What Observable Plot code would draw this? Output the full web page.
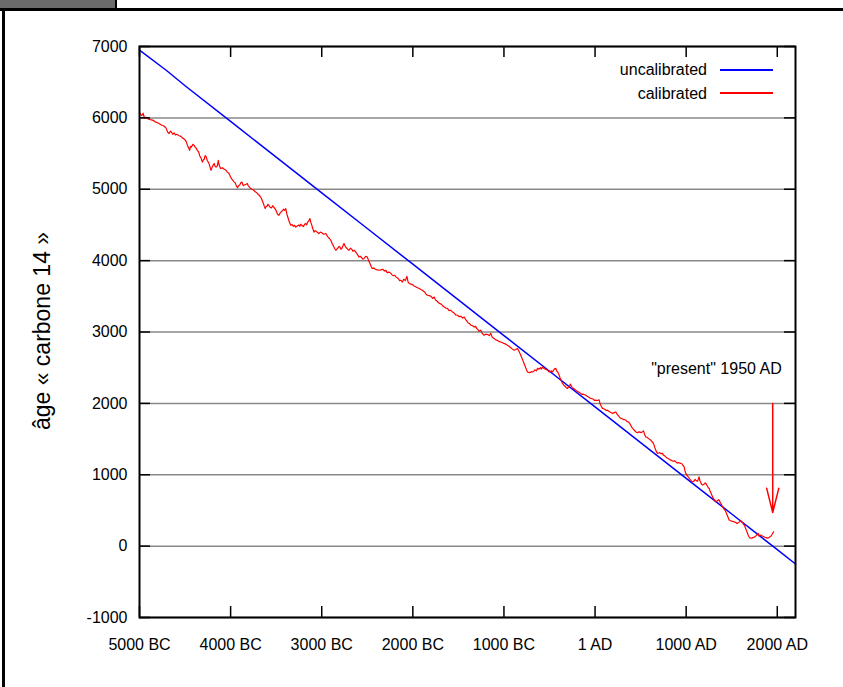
<!DOCTYPE html>
<html>
<head>
<meta charset="utf-8">
<script src="https://cdn.jsdelivr.net/npm/d3@7"></script>
<script src="https://cdn.jsdelivr.net/npm/@observablehq/plot@0.6"></script>
<style>
  html, body { margin: 0; padding: 0; background: #fff; }
  #wrap { position: relative; width: 843px; height: 687px; overflow: hidden; font-family: "Liberation Sans", Arial, sans-serif; }
  #wrap svg { position: absolute; left: 0; top: 0; }
  .deco { position: absolute; }
  .leg { position: absolute; font-size: 16px; line-height: 20px; text-align: right; width: 200px; color: #000; }
  .sample { position: absolute; height: 2px; }
  #ylabel { position: absolute; left: 42px; top: 331px; font-size: 23px; line-height: 26px; white-space: nowrap; color: #000;
            transform: translate(-50%, -50%) rotate(-90deg); }
</style>
</head>
<body>
<div id="wrap"></div>
<script>
// ---- data ----
const xTickValues = [-5000, -4000, -3000, -2000, -1000, 0, 1000, 2000];
const xTickLabels = ["5000 BC", "4000 BC", "3000 BC", "2000 BC", "1000 BC", "1 AD", "1000 AD", "2000 AD"];
const yTickValues = [-1000, 0, 1000, 2000, 3000, 4000, 5000, 6000, 7000];
const yLabel = "âge « carbone 14 »";
const seriesNames = ["uncalibrated", "calibrated"];

// uncalibrated (blue): [calendar year, 14C age]
const uncalibrated = [
  [-5000, 6950], [-4700, 6660], [-4500, 6450], [-4000, 5950], [-3500, 5450], [-3000, 4950], [-2500, 4450],
  [-2000, 3950], [-1500, 3450], [-1000, 2950], [-500, 2450], [0, 1950], [500, 1450], [1000, 950],
  [1500, 450], [2000, -50], [2200, -250]
];

// calibrated (red): [calendar year, 14C age]
const calibrated = [
  [-5000,6080],[-4988,6050],[-4975,6030],[-4960,6065],[-4945,5995],[-4930,6010],[-4905,5985],[-4880,5975],[-4850,5965],[-4820,5940],
  [-4790,5925],[-4760,5900],[-4735,5890],[-4710,5860],[-4690,5800],[-4675,5780],[-4660,5815],[-4650,5800],[-4635,5770],[-4620,5790],
  [-4605,5760],[-4590,5770],[-4565,5750],[-4545,5740],[-4530,5720],[-4510,5705],[-4490,5675],[-4480,5640],[-4470,5600],[-4460,5580],
  [-4450,5545],[-4440,5600],[-4430,5590],[-4415,5630],[-4400,5615],[-4390,5590],[-4380,5580],[-4365,5545],[-4350,5520],[-4340,5470],
  [-4325,5440],[-4310,5380],[-4300,5410],[-4290,5420],[-4280,5470],[-4270,5460],[-4255,5400],[-4240,5370],[-4228,5320],[-4215,5265],
  [-4205,5300],[-4195,5330],[-4180,5360],[-4170,5320],[-4160,5310],[-4145,5330],[-4135,5405],[-4128,5350],[-4120,5320],[-4110,5290],
  [-4090,5300],[-4070,5280],[-4050,5265],[-4035,5240],[-4018,5220],[-4000,5170],[-3980,5130],[-3960,5100],[-3950,5090],[-3940,5060],
  [-3925,5020],[-3912,5050],[-3900,5060],[-3888,5090],[-3875,5100],[-3862,5050],[-3850,5060],[-3830,5070],[-3815,5080],[-3808,5050],
  [-3800,5040],[-3780,5010],[-3765,5000],[-3750,4990],[-3738,4975],[-3725,4960],[-3712,4950],[-3700,4930],[-3685,4915],[-3670,4890],
  [-3655,4850],[-3640,4800],[-3630,4760],[-3620,4730],[-3610,4760],[-3600,4760],[-3590,4790],[-3580,4775],[-3565,4745],[-3550,4740],
  [-3538,4770],[-3525,4750],[-3512,4725],[-3500,4700],[-3485,4650],[-3470,4635],[-3455,4670],[-3440,4690],[-3430,4700],[-3420,4720],
  [-3408,4705],[-3395,4730],[-3382,4650],[-3370,4600],[-3355,4540],[-3340,4495],[-3325,4505],[-3310,4480],[-3298,4495],[-3285,4470],
  [-3268,4485],[-3250,4500],[-3240,4480],[-3230,4510],[-3215,4490],[-3200,4480],[-3188,4510],[-3175,4520],[-3165,4500],[-3155,4540],
  [-3142,4555],[-3130,4590],[-3120,4540],[-3110,4500],[-3098,4450],[-3085,4400],[-3072,4420],[-3060,4410],[-3045,4395],[-3030,4380],
  [-3015,4400],[-3000,4390],[-2978,4370],[-2955,4380],[-2942,4350],[-2930,4330],[-2915,4310],[-2900,4285],[-2885,4240],[-2870,4200],
  [-2858,4170],[-2845,4145],[-2832,4165],[-2820,4180],[-2810,4200],[-2800,4190],[-2790,4160],[-2780,4170],[-2768,4205],[-2755,4240],
  [-2742,4200],[-2730,4180],[-2715,4160],[-2700,4145],[-2685,4175],[-2670,4160],[-2658,4130],[-2645,4145],[-2632,4130],[-2620,4110],
  [-2605,4080],[-2590,4050],[-2575,4060],[-2560,4040],[-2548,4020],[-2535,4030],[-2518,4060],[-2500,4050],[-2485,4000],[-2470,3960],
  [-2458,3920],[-2445,3890],[-2428,3895],[-2410,3880],[-2390,3870],[-2370,3865],[-2350,3870],[-2330,3880],[-2312,3855],[-2295,3865],
  [-2282,3830],[-2270,3840],[-2255,3835],[-2240,3820],[-2225,3795],[-2210,3790],[-2198,3795],[-2185,3770],[-2172,3760],[-2160,3750],
  [-2145,3720],[-2130,3725],[-2115,3700],[-2100,3740],[-2082,3720],[-2065,3780],[-2052,3700],[-2040,3680],[-2020,3670],[-2000,3660],
  [-1982,3640],[-1965,3630],[-1948,3620],[-1930,3610],[-1912,3595],[-1895,3585],[-1882,3570],[-1870,3560],[-1855,3530],[-1840,3515],
  [-1820,3510],[-1800,3500],[-1782,3470],[-1765,3490],[-1752,3450],[-1740,3440],[-1725,3420],[-1710,3400],[-1695,3395],[-1680,3380],
  [-1668,3360],[-1655,3350],[-1638,3335],[-1620,3330],[-1602,3300],[-1585,3305],[-1568,3285],[-1550,3270],[-1530,3240],[-1510,3235],
  [-1490,3215],[-1470,3220],[-1452,3195],[-1435,3210],[-1422,3175],[-1410,3160],[-1395,3130],[-1380,3120],[-1362,3095],[-1345,3090],
  [-1328,3070],[-1310,3080],[-1300,3050],[-1290,3040],[-1272,3010],[-1255,3025],[-1238,2980],[-1218,2955],[-1200,2970],[-1180,2965],
  [-1162,2950],[-1145,2980],[-1128,2925],[-1108,2908],[-1090,2890],[-1070,2880],[-1052,2865],[-1035,2860],[-1018,2850],[-1000,2840],
  [-980,2830],[-962,2815],[-945,2800],[-925,2780],[-905,2760],[-888,2745],[-870,2755],[-852,2770],[-835,2730],[-815,2675],
  [-798,2620],[-778,2555],[-760,2495],[-742,2440],[-728,2435],[-715,2430],[-700,2445],[-687,2440],[-672,2450],[-660,2470],
  [-645,2455],[-632,2490],[-615,2480],[-600,2500],[-590,2480],[-577,2510],[-562,2490],[-550,2480],[-535,2475],[-522,2465],
  [-505,2440],[-490,2450],[-478,2455],[-467,2440],[-448,2480],[-430,2490],[-420,2450],[-410,2440],[-402,2420],[-394,2395],
  [-385,2360],[-375,2330],[-365,2300],[-357,2280],[-345,2260],[-330,2240],[-315,2220],[-302,2210],[-290,2230],[-280,2240],
  [-272,2270],[-265,2255],[-252,2225],[-240,2210],[-225,2200],[-211,2185],[-195,2170],[-180,2160],[-168,2150],[-156,2140],
  [-142,2125],[-130,2130],[-115,2120],[-101,2115],[-85,2100],[-70,2090],[-58,2075],[-46,2070],[-32,2065],[-20,2060],
  [-5,2040],[9,2045],[28,2040],[45,2050],[52,2010],[60,1980],[70,1955],[82,1930],[96,1925],[110,1915],
  [124,1900],[137,1905],[150,1890],[165,1880],[178,1870],[192,1860],[210,1870],[228,1880],[240,1850],[255,1830],
  [268,1805],[283,1790],[296,1785],[310,1775],[325,1770],[338,1765],[352,1745],[365,1740],[380,1720],[393,1690],
  [406,1660],[420,1640],[434,1620],[448,1600],[465,1590],[484,1600],[508,1590],[532,1615],[545,1560],[557,1530],
  [570,1525],[585,1510],[598,1495],[612,1485],[620,1470],[630,1460],[640,1440],[648,1415],[656,1380],[665,1350],
  [675,1320],[685,1300],[698,1305],[710,1310],[725,1295],[740,1300],[750,1275],[760,1270],[768,1260],[777,1250],
  [792,1235],[805,1225],[818,1215],[832,1205],[846,1195],[860,1190],[873,1195],[887,1180],[900,1165],[915,1170],
  [928,1165],[942,1160],[955,1150],[965,1130],[972,1120],[978,1110],[986,1060],[996,1020],[1005,1000],[1015,985],
  [1025,965],[1033,950],[1042,935],[1050,925],[1060,905],[1070,900],[1080,910],[1090,915],[1098,935],[1106,925],
  [1115,915],[1125,910],[1134,940],[1142,970],[1150,920],[1160,890],[1170,865],[1180,855],[1190,865],[1200,870],
  [1208,885],[1216,880],[1225,855],[1235,840],[1244,815],[1252,810],[1260,780],[1270,750],[1280,720],[1290,690],
  [1300,665],[1310,650],[1318,630],[1326,620],[1335,630],[1345,635],[1354,650],[1362,645],[1370,620],[1380,600],
  [1390,575],[1400,550],[1410,530],[1420,510],[1428,500],[1436,480],[1445,450],[1455,420],[1463,395],[1472,365],
  [1486,355],[1500,350],[1514,345],[1527,340],[1536,335],[1545,330],[1555,320],[1564,320],[1575,330],[1585,340],
  [1592,350],[1600,355],[1610,340],[1620,330],[1628,310],[1637,295],[1646,270],[1655,240],[1664,210],[1673,180],
  [1682,150],[1690,130],[1700,115],[1710,110],[1720,112],[1730,120],[1742,125],[1754,130],[1762,140],[1770,150],
  [1780,165],[1790,180],[1795,155],[1800,140],[1810,150],[1820,155],[1830,145],[1840,140],[1848,135],[1856,130],
  [1865,125],[1875,120],[1884,115],[1893,110],[1902,115],[1910,120],[1920,130],[1930,140],[1938,155],[1945,170],
  [1952,185],[1960,200]
];

// annotation
const noteText = ["\"present\" 1950 AD"];
const noteX = [1950];
const noteY = [2480];
const arrowX = [1950];
const arrowFrom = [2000];
const arrowTo = [470];

// ---- build tables ----
const uncal = uncalibrated.map(([x, y]) => ({x, y}));
const cal = calibrated.map(([x, y]) => ({x, y}));
const notes = noteText.map((t, i) => ({t, x: noteX[i], y: noteY[i]}));
const arrows = arrowX.map((x, i) => ({x, y1: arrowFrom[i], y2: arrowTo[i]}));

const W = 843, H = 687, mL = 139, mR = 48, mT = 46, mB = 70;
const plotW = W - mL - mR, plotH = H - mT - mB;
const tick = 11;

const chart = Plot.plot({
  width: W, height: H,
  marginLeft: mL, marginRight: mR, marginTop: mT, marginBottom: mB,
  style: {fontFamily: "'Liberation Sans', Arial, sans-serif", fontSize: "16px", background: "transparent", color: "#000", overflow: "visible"},
  x: {domain: [-5000, 2200]},
  y: {domain: [-1000, 7000]},
  marks: [
    Plot.ruleY(yTickValues, {y: d => d, stroke: "#888", strokeWidth: 1.5}),
    Plot.line(uncal, {x: "x", y: "y", stroke: "#0000ff", strokeWidth: 1.5}),
    Plot.line(cal, {x: "x", y: "y", stroke: "#ff0000", strokeWidth: 1.2}),
    Plot.tickX(xTickValues, {x: d => d, insetTop: plotH - tick, stroke: "#000", strokeWidth: 1.5}),
    Plot.tickX(xTickValues, {x: d => d, insetBottom: plotH - tick, stroke: "#000", strokeWidth: 1.5}),
    Plot.tickY(yTickValues, {y: d => d, insetRight: plotW - tick, stroke: "#000", strokeWidth: 1.5}),
    Plot.tickY(yTickValues, {y: d => d, insetLeft: plotW - tick, stroke: "#000", strokeWidth: 1.5}),
    Plot.frame({stroke: "#000", strokeWidth: 2}),
    Plot.axisX({ticks: xTickValues, tickFormat: d => xTickLabels[xTickValues.indexOf(d)], tickSize: 0, tickPadding: 21, fontSize: 16, label: null}),
    Plot.axisY({ticks: yTickValues, tickFormat: d => String(d), tickSize: 0, tickPadding: 12, fontSize: 16, label: null}),
    Plot.text(notes, {x: "x", y: "y", text: "t", textAnchor: "end", dx: 9, fontSize: 16, lineAnchor: "middle"}),
    Plot.arrow(arrows, {x1: "x", x2: "x", y1: "y1", y2: "y2", stroke: "#ff0000", strokeWidth: 1.5, headLength: 25, headAngle: 28})
  ]
});

const wrap = document.getElementById("wrap");
wrap.appendChild(chart);

// y axis title
const yl = document.createElement("div");
yl.id = "ylabel";
yl.textContent = yLabel;
wrap.appendChild(yl);

// frame decorations
function deco(l, t, w, h, bg) {
  const d = document.createElement("div");
  d.className = "deco";
  Object.assign(d.style, {left: l + "px", top: t + "px", width: w + "px", height: h + "px", background: bg});
  wrap.appendChild(d);
}
deco(0, 0, 115, 8, "#6b6b6b");
deco(115, 0, 2, 10, "#000");
deco(0, 8, 843, 3, "#000");
deco(2, 8, 3, 679, "#000");

// legend
const legColors = ["#0000ff", "#ff0000"];
const legTops = [60, 84];
const legLines = [70, 93];
seriesNames.forEach((name, i) => {
  const t = document.createElement("div");
  t.className = "leg";
  t.textContent = name;
  Object.assign(t.style, {left: (707 - 200) + "px", top: legTops[i] + "px"});
  wrap.appendChild(t);
  const s = document.createElement("div");
  s.className = "sample";
  Object.assign(s.style, {left: "720px", width: "53px", top: (legLines[i] - 1) + "px", background: legColors[i]});
  wrap.appendChild(s);
});
</script>
</body>
</html>
